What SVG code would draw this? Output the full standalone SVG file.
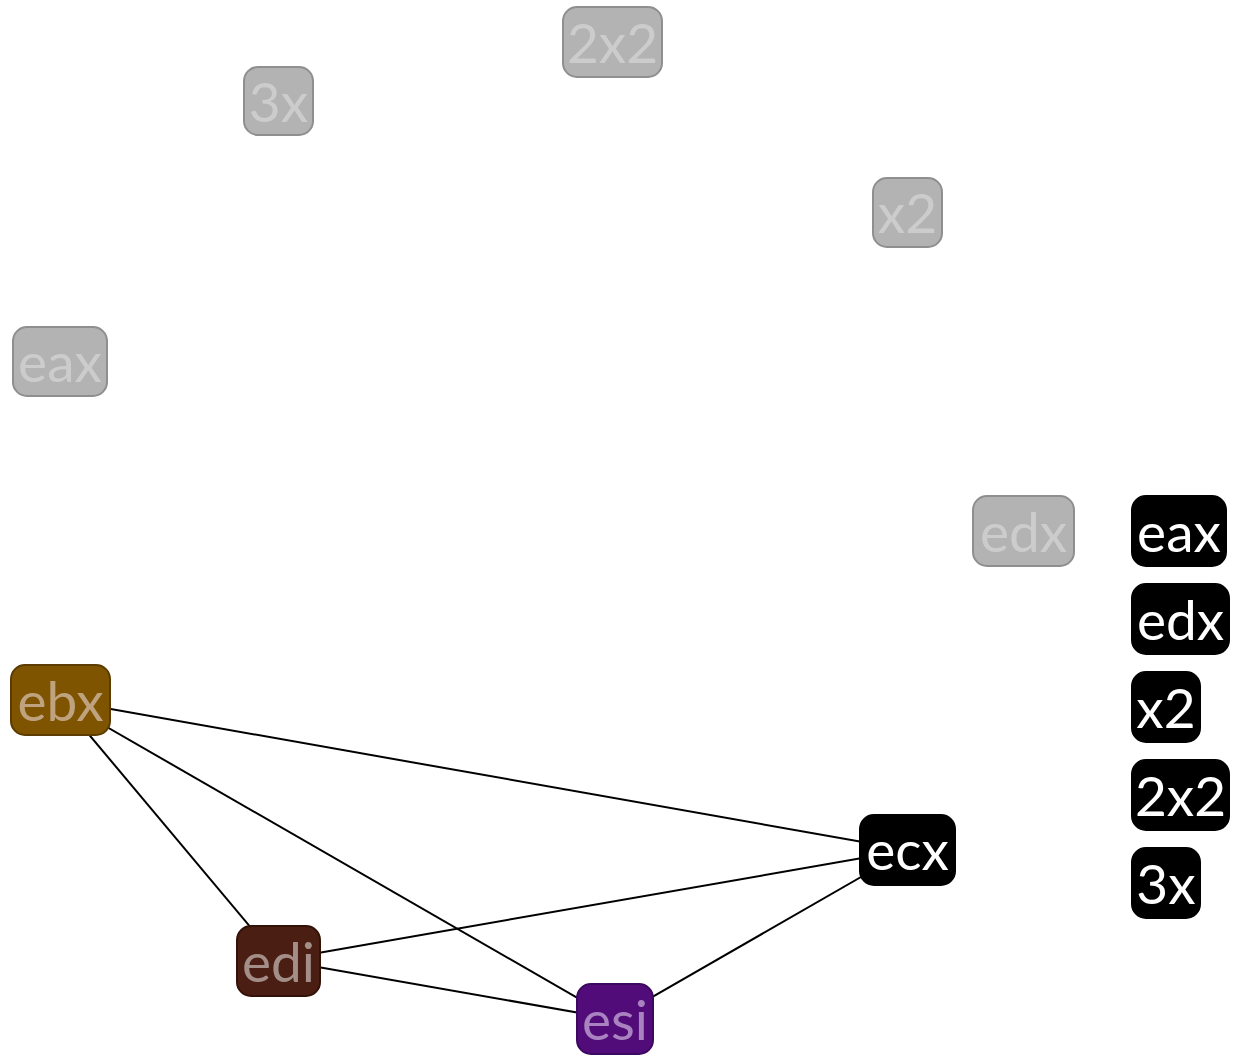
<svg xmlns="http://www.w3.org/2000/svg" width="1241" height="1061" viewBox="0 0 1241 1061">
  <style>
    .node rect { stroke-width: 2; }
    .node text { font-family: Lato, "Open Sans", "DejaVu Sans", sans-serif; font-size: 55px; text-anchor: middle; }
    .dim rect { fill: #b3b3b3; stroke: #8f8f8f; }
    .dim text { fill: #cccccc; }
    .key rect { fill: #000000; stroke: #000000; }
    .key text { fill: #ffffff; }
    #edges line { stroke: #000000; stroke-width: 2; }
  </style>
  <rect width="1241" height="1061" fill="#ffffff"/>

  <!-- connectors between active registers -->
  <g id="edges">
    <line x1="60" y1="700" x2="908" y2="850"/>
    <line x1="60" y1="700" x2="614" y2="1019"/>
    <line x1="60" y1="700" x2="278" y2="960"/>
    <line x1="278" y1="960" x2="908" y2="850"/>
    <line x1="278" y1="960" x2="614" y2="1019"/>
    <line x1="614" y1="1019" x2="908" y2="850"/>
  </g>

  <!-- inactive nodes -->
  <g id="n-2x2" class="node dim"><rect x="563" y="7" width="99" height="70" rx="14"/><text x="612.5" y="63">2x2</text></g>
  <g id="n-3x" class="node dim"><rect x="244" y="67" width="69" height="68" rx="14"/><text x="278.5" y="122">3x</text></g>
  <g id="n-x2" class="node dim"><rect x="873" y="178" width="69" height="69" rx="14"/><text x="907.5" y="233">x2</text></g>
  <g id="n-eax" class="node dim"><rect x="13" y="327" width="94" height="69" rx="14"/><text x="60" y="382">eax</text></g>
  <g id="n-edx" class="node dim"><rect x="973" y="496" width="101" height="70" rx="14"/><text x="1023.5" y="552">edx</text></g>

  <!-- active nodes -->
  <g id="n-ebx" class="node"><rect x="11" y="665" width="99" height="70" rx="14" fill="#7f5400" stroke="#5c3c00"/><text x="60.5" y="721" fill="#bfa37f">ebx</text></g>
  <g id="n-edi" class="node"><rect x="237" y="926" width="83" height="70" rx="14" fill="#4a1e12" stroke="#331208"/><text x="278.5" y="982" fill="#a38e88">edi</text></g>
  <g id="n-esi" class="node"><rect x="577" y="984" width="76" height="70" rx="14" fill="#520c7a" stroke="#3d0860"/><text x="615" y="1040" fill="#a983c0">esi</text></g>
  <g id="n-ecx" class="node key"><rect x="860" y="815" width="95" height="70" rx="14"/><text x="907.5" y="870">ecx</text></g>

  <!-- legend -->
  <g id="legend-eax" class="node key"><rect x="1132" y="496" width="94" height="70" rx="14"/><text x="1179" y="552">eax</text></g>
  <g id="legend-edx" class="node key"><rect x="1132" y="584" width="97" height="70" rx="14"/><text x="1180.5" y="640">edx</text></g>
  <g id="legend-x2" class="node key"><rect x="1132" y="672" width="68" height="70" rx="14"/><text x="1166" y="728">x2</text></g>
  <g id="legend-2x2" class="node key"><rect x="1132" y="760" width="97" height="70" rx="14"/><text x="1180.5" y="816">2x2</text></g>
  <g id="legend-3x" class="node key"><rect x="1132" y="848" width="68" height="70" rx="14"/><text x="1166" y="904">3x</text></g>
</svg>
